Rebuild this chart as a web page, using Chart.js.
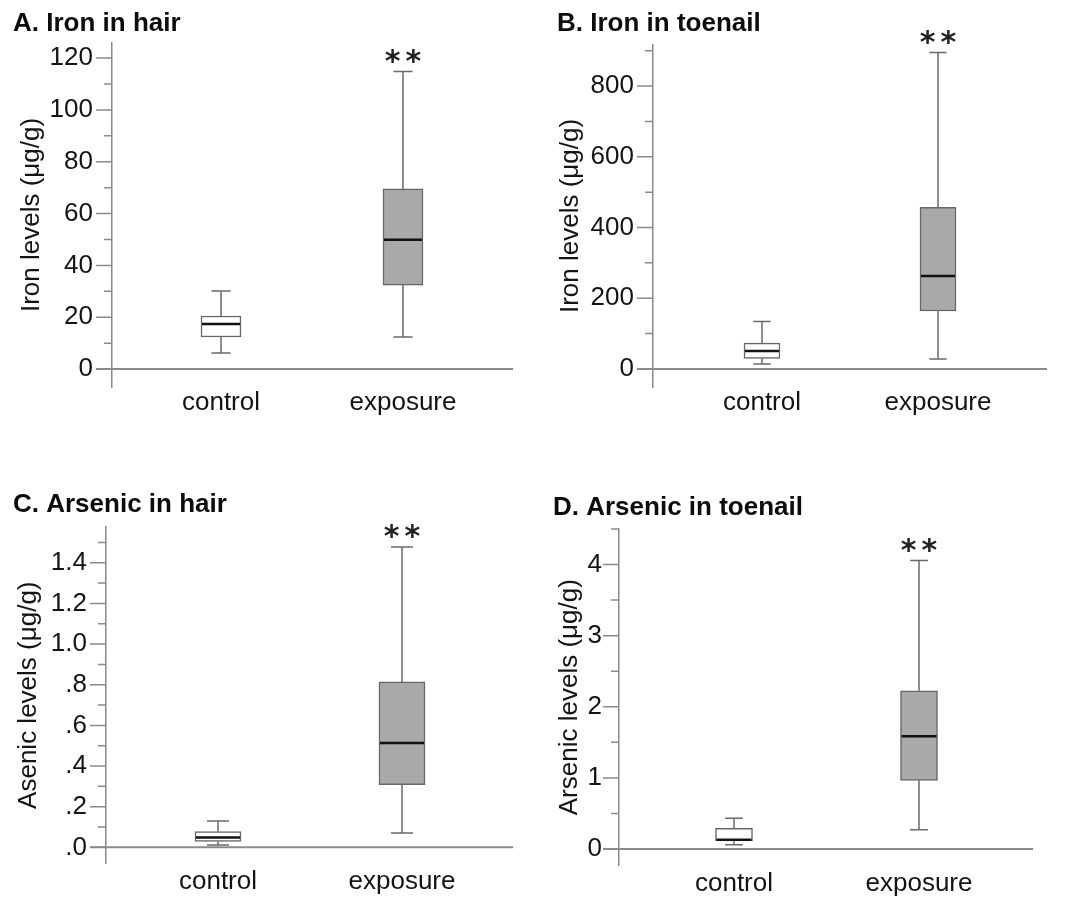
<!DOCTYPE html>
<html>
<head>
<meta charset="utf-8">
<script src="https://cdn.jsdelivr.net/npm/chart.js@4.4.0/dist/chart.umd.min.js"></script>
<style>
  body { margin: 0; background: #fff; width: 1070px; height: 898px; position: relative; overflow: hidden; }
  canvas { position: absolute; }
</style>
</head>
<body>
<canvas id="ironHair" width="530" height="440" style="left:0;top:0"></canvas>
<canvas id="ironNail" width="540" height="440" style="left:530px;top:0"></canvas>
<canvas id="arsHair" width="530" height="458" style="left:0;top:440px"></canvas>
<canvas id="arsNail" width="540" height="458" style="left:530px;top:440px"></canvas>
<script>
// groups on the x axis
const groups = ['control', 'exposure'];

// box stats, each [min, q1, median, q3, max]
const ironHairControl = [6.2, 12.4, 17.4, 20.5, 30.1];
const ironHairExposure = [12.4, 32.4, 49.9, 69.5, 114.8];
const ironNailControl = [14, 30, 51, 73, 134];
const ironNailExposure = [28, 164, 263, 457, 895];
const arsHairControl = [0.012, 0.029, 0.049, 0.078, 0.13];
const arsHairExposure = [0.07, 0.308, 0.513, 0.814, 1.478];
const arsNailControl = [0.06, 0.117, 0.13, 0.29, 0.433];
const arsNailExposure = [0.27, 0.965, 1.586, 2.224, 4.056];

// labelled ticks and the small unlabelled ones
const ironHairTicks = [0, 20, 40, 60, 80, 100, 120];
const ironHairMinor = [10, 30, 50, 70, 90, 110];
const ironNailTicks = [0, 200, 400, 600, 800];
const ironNailMinor = [100, 300, 500, 700, 900];
const arsHairTicks = [0, 0.2, 0.4, 0.6, 0.8, 1.0, 1.2, 1.4];
const arsHairTickLabels = ['.0', '.2', '.4', '.6', '.8', '1.0', '1.2', '1.4'];
const arsHairMinor = [0.1, 0.3, 0.5, 0.7, 0.9, 1.1, 1.3, 1.5];
const arsNailTicks = [0, 1, 2, 3, 4];
const arsNailMinor = [0.5, 1.5, 2.5, 3.5, 4.5];

const FONT = "'Liberation Sans', Arial, Helvetica, sans-serif";
const TEXT = '#141414';
const AXIS = '#8a8a8a';

function makeExtras(p) {
  const stats = [p.control, p.exposure];
  return {
    id: 'boxExtras',
    beforeDatasetsDraw(chart) {
      const {ctx, chartArea} = chart;
      const x = chart.scales.x, y = chart.scales.y;
      const ax = chartArea.left;
      ctx.save();
      ctx.strokeStyle = AXIS;
      ctx.lineWidth = 1.5;
      ctx.beginPath();
      p.ticks.forEach(v => {
        const py = y.getPixelForValue(v);
        ctx.moveTo(ax - 16, py); ctx.lineTo(ax, py);
      });
      p.minor.forEach(v => {
        const py = y.getPixelForValue(v);
        ctx.moveTo(ax - 8, py); ctx.lineTo(ax, py);
      });
      ctx.stroke();
      // baseline at zero
      const y0 = y.getPixelForValue(0);
      ctx.lineWidth = 2;
      ctx.beginPath();
      ctx.moveTo(ax - 16, y0); ctx.lineTo(chartArea.right, y0);
      ctx.stroke();

      // whiskers
      ctx.strokeStyle = '#6a6a6a';
      ctx.lineWidth = 1.5;
      ctx.beginPath();
      const half = p.barWidth * 0.24;
      stats.forEach((s, i) => {
        const px = x.getPixelForValue(i);
        [[s[3], s[4]], [s[1], s[0]]].forEach(([from, to]) => {
          const pTo = y.getPixelForValue(to);
          ctx.moveTo(px, y.getPixelForValue(from)); ctx.lineTo(px, pTo);
          ctx.moveTo(px - half, pTo); ctx.lineTo(px + half, pTo);
        });
      });
      ctx.stroke();
      ctx.restore();
    },
    afterDatasetsDraw(chart) {
      const {ctx} = chart;
      const x = chart.scales.x, y = chart.scales.y;
      ctx.save();
      ctx.strokeStyle = '#111';
      ctx.lineWidth = 2.5;
      ctx.beginPath();
      stats.forEach((s, i) => {
        const px = x.getPixelForValue(i);
        const py = y.getPixelForValue(s[2]);
        ctx.moveTo(px - p.barWidth / 2 + 1, py); ctx.lineTo(px + p.barWidth / 2 - 1, py);
      });
      ctx.stroke();

      // ** over the exposure group
      const ex = x.getPixelForValue(1);
      const center = y.getPixelForValue(p.exposure[4]) - 15;
      ctx.font = "bold 30px 'DejaVu Sans', sans-serif";
      ctx.fillStyle = '#222';
      ctx.textAlign = 'center';
      ctx.textBaseline = 'alphabetic';
      ctx.letterSpacing = '5px';
      const m = ctx.measureText('**');
      ctx.fillText('**', ex + 2.5, center + (m.actualBoundingBoxAscent - m.actualBoundingBoxDescent) / 2);
      ctx.restore();
    }
  };
}

function makePanel(p) {
  const lhTitle = 31.2;
  const titlePadTop = p.titleY - p.top - lhTitle / 2;
  const titlePadBottom = p.areaTop - p.top - titlePadTop - lhTitle;
  const xAxisH = 32;
  const k = p.centers[1] - p.centers[0];
  const stats = [p.control, p.exposure];

  new Chart(document.getElementById(p.id), {
    type: 'bar',
    data: {
      datasets: [{
        data: stats.map((s, i) => ({x: i, y: [s[1], s[3]]})),
        backgroundColor: ['#ffffff', '#a9a9a9'],
        borderColor: '#666666',
        borderWidth: 1.5,
        borderSkipped: false,
        barThickness: p.barWidth
      }]
    },
    options: {
      responsive: false,
      animation: false,
      events: [],
      layout: {
        padding: {
          left: p.titleX - p.left,
          top: 0,
          right: p.left + p.width - p.areaRight,
          bottom: p.top + p.height - p.areaBottom - xAxisH
        }
      },
      plugins: {
        legend: {display: false},
        tooltip: {enabled: false},
        title: {
          display: true,
          text: p.title,
          align: 'start',
          color: '#0c0c0c',
          font: {family: FONT, size: 26, weight: 'bold', lineHeight: 1.2},
          padding: {top: titlePadTop, bottom: titlePadBottom}
        }
      },
      scales: {
        x: {
          type: 'linear',
          offset: false,
          min: -(p.centers[0] - p.axisX) / k,
          max: 1 + (p.areaRight - p.centers[1]) / k,
          grid: {display: false, drawTicks: false},
          border: {display: false},
          afterBuildTicks: axis => { axis.ticks = groups.map((g, i) => ({value: i})); },
          afterFit: axis => { axis.height = xAxisH; },
          ticks: {
            color: TEXT,
            font: {family: FONT, size: 26, lineHeight: 1.1},
            padding: p.xPad,
            maxRotation: 0,
            autoSkip: false,
            callback: v => groups[v]
          }
        },
        y: {
          min: p.yMin,
          max: p.yMax,
          grid: {display: true, drawOnChartArea: false, drawTicks: false},
          border: {display: true, color: AXIS, width: 1.5},
          afterBuildTicks: axis => { axis.ticks = p.ticks.map(v => ({value: v})); },
          afterFit: axis => { axis.width = p.axisX - p.titleX; },
          ticks: {
            color: TEXT,
            font: {family: FONT, size: 26},
            padding: p.tickPad,
            callback: (v, i) => p.tickLabels ? p.tickLabels[i] : String(v)
          },
          title: {
            display: true,
            text: p.yTitle,
            color: TEXT,
            font: {family: FONT, size: 26, lineHeight: 1},
            padding: {top: p.yTitleX - p.titleX - 13, bottom: 0}
          }
        }
      }
    },
    plugins: [makeExtras(p)]
  });
}

makePanel({
  id: 'ironHair', left: 0, top: 0, width: 530, height: 440,
  title: 'A. Iron in hair', yTitle: 'Iron levels (μg/g)',
  titleX: 13, titleY: 24, axisX: 112, areaTop: 43, areaBottom: 387, areaRight: 513,
  yMin: -6.9, yMax: 125.8, centers: [221, 403], barWidth: 40,
  yTitleX: 32, tickPad: 19, xPad: 2,
  control: ironHairControl, exposure: ironHairExposure,
  ticks: ironHairTicks, minor: ironHairMinor
});

makePanel({
  id: 'ironNail', left: 530, top: 0, width: 540, height: 440,
  title: 'B. Iron in toenail', yTitle: 'Iron levels (μg/g)',
  titleX: 557, titleY: 24, axisX: 653, areaTop: 45, areaBottom: 387, areaRight: 1047,
  yMin: -51, yMax: 916, centers: [762, 938], barWidth: 36,
  yTitleX: 571, tickPad: 19, xPad: 2,
  control: ironNailControl, exposure: ironNailExposure,
  ticks: ironNailTicks, minor: ironNailMinor
});

makePanel({
  id: 'arsHair', left: 0, top: 440, width: 530, height: 458,
  title: 'C. Arsenic in hair', yTitle: 'Asenic levels (μg/g)',
  titleX: 13, titleY: 504.5, axisX: 106, areaTop: 527, areaBottom: 868, areaRight: 513,
  yMin: -0.079, yMax: 1.576, centers: [218, 402], barWidth: 46,
  yTitleX: 29, tickPad: 19, xPad: 4.5,
  control: arsHairControl, exposure: arsHairExposure,
  ticks: arsHairTicks, tickLabels: arsHairTickLabels, minor: arsHairMinor
});

makePanel({
  id: 'arsNail', left: 530, top: 440, width: 540, height: 458,
  title: 'D. Arsenic in toenail', yTitle: 'Arsenic levels (μg/g)',
  titleX: 553, titleY: 507.5, axisX: 619, areaTop: 529, areaBottom: 868, areaRight: 1033,
  yMin: -0.23, yMax: 4.5, centers: [734, 919], barWidth: 37,
  yTitleX: 570, tickPad: 17, xPad: 4.5,
  control: arsNailControl, exposure: arsNailExposure,
  ticks: arsNailTicks, minor: arsNailMinor
});
</script>
</body>
</html>
